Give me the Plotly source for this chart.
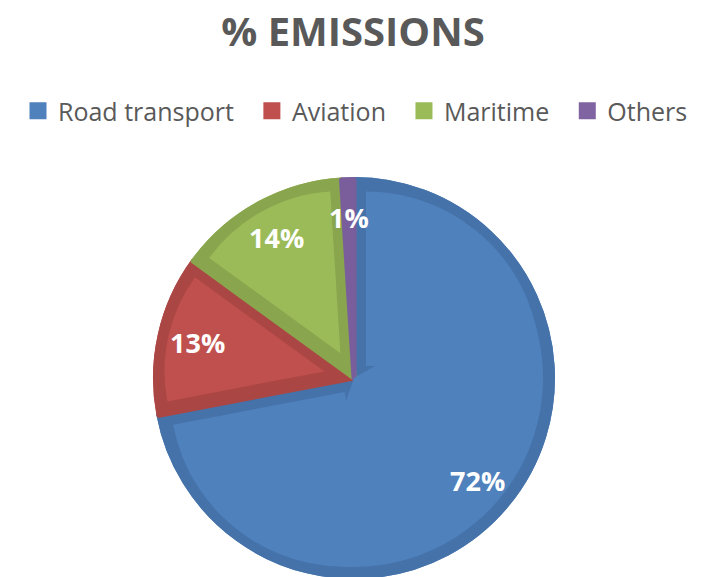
import math
import plotly.graph_objects as go

# ---- data ----
categories = ["Road transport", "Aviation", "Maritime", "Others"]
shares = [72, 13, 14, 1]

# ---- style ----
light = ["#4F81BD", "#C0504D", "#9BBB59", "#8064A2"]
dark = ["#4672AA", "#AA4643", "#89A54E", "#7A5E9C"]
TEXT_GRAY = "#595959"
FONT = "Open Sans"

W, H = 708, 577
OFF = 8                 # page body margin offset of the rendered figure
CX = 354 - OFF          # pie centre x (px from left of figure)
CYB = H - (378 - OFF)   # pie centre y (px from bottom of figure)
R = 201                 # outer radius (px)
BAND = 12               # darker inset band width (px)
LW = 5                  # outline width (drives legend square size)
CLEAR = "rgba(0,0,0,0)"
LEGEND_PAD = "\u00a0" * 2   # extra spacing between legend entries

legend_names = [c + LEGEND_PAD for c in categories]


def dom(half):
    return dict(x=[(CX - half) / W, (CX + half) / W],
                y=[max(0, (CYB - half) / H), min(1, (CYB + half) / H)])


fig = go.Figure()

# legend / data trace (covered by the darker base below)
fig.add_trace(go.Pie(
    labels=legend_names, values=shares, sort=False, direction="clockwise",
    rotation=0, domain=dom(R - LW / 2), textinfo="none",
    marker=dict(colors=light, line=dict(color=light, width=LW)),
    hoverinfo="label+percent", showlegend=True,
))

# darker base (forms the inset bands)
fig.add_trace(go.Pie(
    labels=legend_names, values=shares, sort=False, direction="clockwise",
    rotation=0, domain=dom(R - LW / 2), textinfo="none",
    marker=dict(colors=dark, line=dict(color=dark, width=LW)),
    hoverinfo="skip", showlegend=False,
))

total = sum(shares)
bounds = []
acc = 0.0
for s in shares:
    a0 = acc / total * 360
    acc += s
    bounds.append((a0, acc / total * 360))


def inner(a0, a1, color, tag, pulled=True):
    span = a1 - a0
    if pulled:
        alpha = math.radians(span / 2)
        p = BAND / math.sin(alpha)
        rr = (R - BAND) - p * (1 + math.cos(alpha)) / 2
        q = p / rr
        half = rr + p
    else:
        q = 0.0
        half = R - BAND
    vals, cols, pulls, labs = [], [], [], []
    for v, c, pl in ((a0, CLEAR, 0), (span, color, q), (360 - a1, CLEAR, 0)):
        if v > 1e-9:
            vals.append(v); cols.append(c); pulls.append(pl)
            labs.append(f"{tag}{len(labs)}")
    fig.add_trace(go.Pie(
        labels=labs, values=vals, sort=False, direction="clockwise",
        rotation=0, domain=dom(half), textinfo="none", pull=pulls,
        marker=dict(colors=cols, line=dict(width=0)),
        hoverinfo="skip", showlegend=False,
    ))


# Road transport: reflex slice, light area built from three overlapping parts
b0, b1 = bounds[0]
inner(b0, b0 + 90, light[0], "ra")
inner(b0 + 60, b1 - 60, light[0], "rm", pulled=False)
inner(b1 - 90, b1, light[0], "rc")
# Aviation and Maritime
inner(*bounds[1], light[1], "av")
inner(*bounds[2], light[2], "ma")

# data labels
for (a0, a1), s in zip(bounds, shares):
    mid = math.radians((a0 + a1) / 2)
    rl = 0.8 * R
    fig.add_annotation(
        x=(CX + rl * math.sin(mid)) / W, y=(CYB + rl * math.cos(mid)) / H,
        xref="paper", yref="paper", showarrow=False,
        xanchor="center", yanchor="middle",
        text=f"{round(s / total * 100)}%",
        font=dict(family=FONT, size=27, color="white", weight="bold"),
    )

fig.update_layout(
    width=W, height=H, margin=dict(l=0, r=0, t=0, b=0),
    paper_bgcolor="white", plot_bgcolor="white",
    title=dict(text="% EMISSIONS", x=(353 - OFF) / W, xanchor="center",
               y=1 - (32 - OFF) / H, yanchor="middle", yref="container",
               font=dict(family=FONT, size=40, color=TEXT_GRAY, weight="bold")),
    legend=dict(orientation="h", x=(362 - OFF) / W, xanchor="center",
                y=1 - (111 - OFF) / H, yanchor="middle",
                font=dict(family=FONT, size=25, color=TEXT_GRAY),
                traceorder="normal"),
    font=dict(family=FONT),
)

fig.write_html("out.html")
